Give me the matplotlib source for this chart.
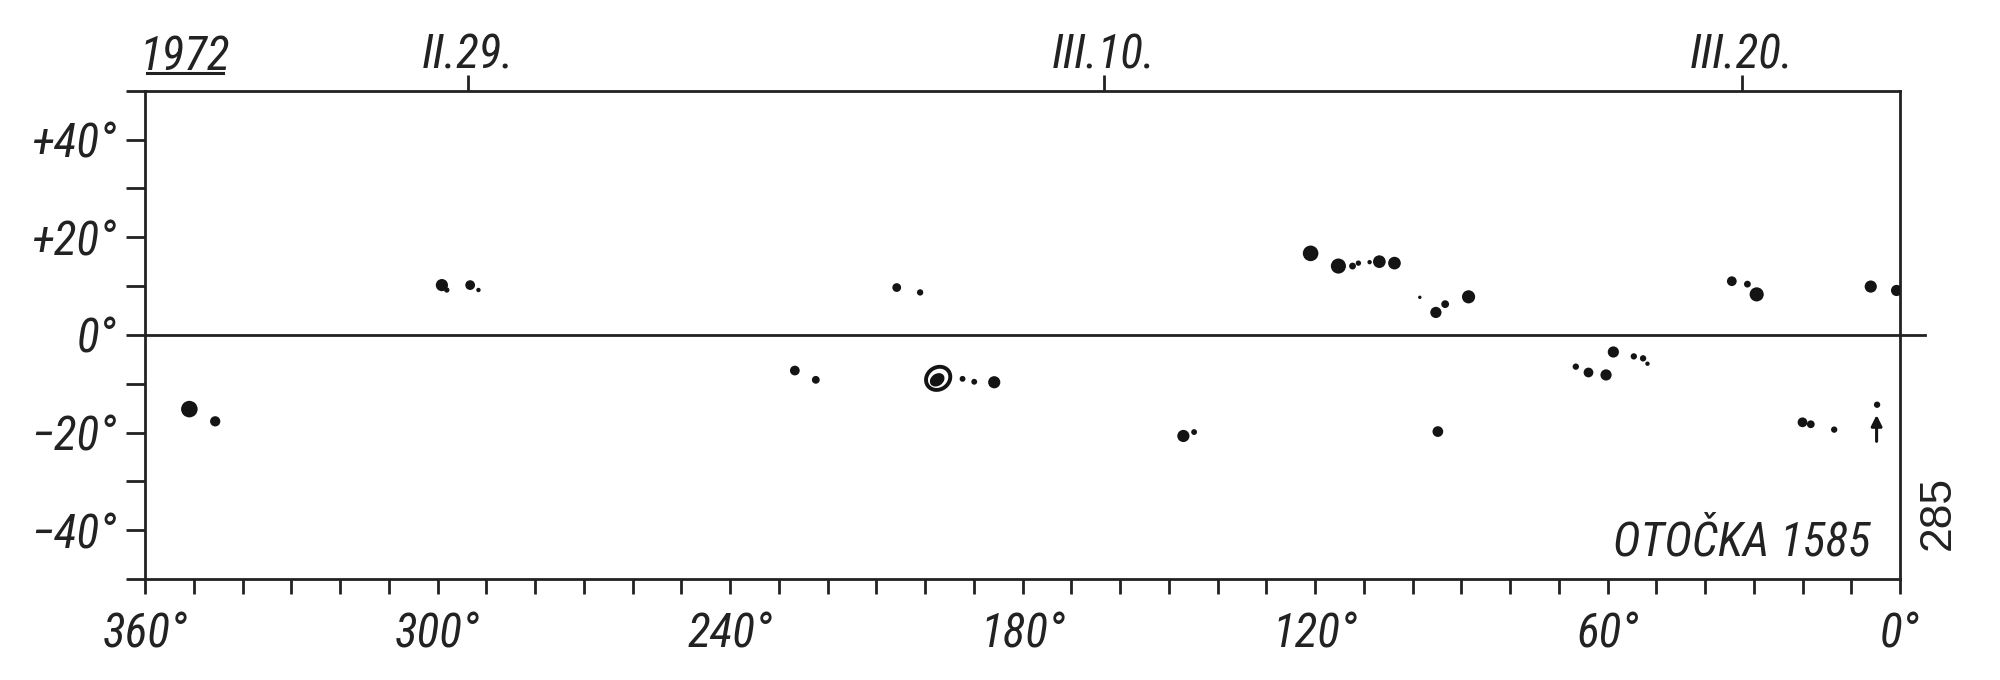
import matplotlib
matplotlib.use("Agg")
import matplotlib.pyplot as plt
from matplotlib import font_manager
from matplotlib.patches import Ellipse
from matplotlib.lines import Line2D

# sunspot positions (Carrington longitude, latitude, spot extent in deg)
spot_lon = [350.9, 345.6,
            299.1, 298.1, 293.3, 291.6,
            226.7, 222.4,
            205.8, 201.0,
            192.3, 189.9, 185.8,
            147.0, 144.8,
            120.9, 115.2, 112.3, 111.1, 108.8, 106.8, 103.7,
            98.5, 95.2, 93.3, 88.5,
            94.8,
            66.5, 63.9, 60.3, 58.8, 54.6, 52.7, 51.8,
            34.5, 31.3, 29.4,
            20.0, 18.3, 13.5,
            4.7,
            6.0, 0.7]
spot_lat = [-15.2, -17.7,
            10.2, 9.2, 10.2, 9.2,
            -7.3, -9.2,
            9.7, 8.7,
            -9.0, -9.6, -9.7,
            -20.7, -19.9,
            16.7, 14.1, 14.1, 14.7, 14.9, 15.0, 14.7,
            7.7, 4.6, 6.3, 7.8,
            -19.8,
            -6.5, -7.7, -8.2, -3.5, -4.4, -4.8, -5.9,
            11.0, 10.4, 8.3,
            -17.9, -18.3, -19.4,
            -14.3,
            9.9, 9.1]
spot_ext = [3.4, 2.1,
            2.5, 1.1, 2.0, 0.9,
            2.0, 1.6,
            1.8, 1.3,
            1.2, 1.2, 2.5,
            2.5, 1.2,
            3.2, 3.1, 1.4, 1.1, 0.9, 2.6, 2.6,
            0.7, 2.3, 1.6, 2.7,
            2.2,
            1.3, 2.0, 2.3, 2.3, 1.3, 1.3, 0.9,
            2.0, 1.4, 2.9,
            2.0, 1.6, 1.3,
            1.3,
            2.5, 2.3]

# large spot with penumbra
ring_lon, ring_lat = 197.3, -8.9
ring_w, ring_h = 5.2, 4.5

# arrow near 5 deg
arrow_lon = 4.8
arrow_lat = (-21.8, -16.4)

lat_ticks = [40, 20, 0, -20, -40]
lat_labels = ["+40°", "+20°", "0°", "−20°", "−40°"]
lon_ticks = [360, 300, 240, 180, 120, 60, 0]
lon_labels = ["360°", "300°", "240°", "180°", "120°", "60°", "0°"]
date_lon = [293.7, 163.3, 32.4]
date_labels = ["II.29.", "III.10.", "III.20."]

names = {f.name for f in font_manager.fontManager.ttflist}
hand, fs = "DejaVu Sans", 28
for fam, size in [("Roboto Condensed", 34), ("Liberation Sans Narrow", 34),
                  ("Liberation Sans", 31), ("Roboto", 31)]:
    if fam in names:
        hand, fs = fam, size
        break
plain = "Liberation Sans" if "Liberation Sans" in names else "DejaVu Sans"

ink = "#222222"
dot = "#141414"
lw = 2.0

fig = plt.figure(figsize=(20, 6.8), dpi=100)
ax = fig.add_axes([0.0725, 0.1485, 0.8775, 0.718])
ax.set_xlim(360, 0)
ax.set_ylim(-50, 50)

for s in ax.spines.values():
    s.set_color(ink)
    s.set_linewidth(lw)

# spot size: degrees -> points using the axes scale
pts_per_deg = ax.get_position().width * fig.get_figwidth() * 72 / 360
sizes = [(e * pts_per_deg) ** 2 for e in spot_ext]
ax.scatter(spot_lon, spot_lat, s=sizes, color=dot, linewidths=0, zorder=3)

ax.add_patch(Ellipse((ring_lon, ring_lat), ring_w, ring_h, angle=-35,
                     facecolor="white", edgecolor=dot, lw=2.8, zorder=3))
ax.add_patch(Ellipse((ring_lon + 0.2, ring_lat - 0.3), ring_w * 0.62, ring_h * 0.55, angle=-35,
                     facecolor=dot, edgecolor="none", zorder=4))

ax.annotate("", xy=(arrow_lon, arrow_lat[1]), xytext=(arrow_lon, arrow_lat[0]),
            arrowprops=dict(arrowstyle="-|>", color=dot, lw=2.2, mutation_scale=16,
                            shrinkA=0, shrinkB=0))

# equator, running a little past the right frame
ax.plot([360, -5.2], [0, 0], color=ink, lw=lw, clip_on=False, zorder=2)

# latitude axis
ax.set_yticks(lat_ticks)
ax.set_yticklabels(lat_labels)
ax.set_yticks(range(-50, 51, 10), minor=True)
ax.tick_params(axis="y", which="both", direction="out", length=13.5, width=lw,
               color=ink, pad=7)
ax.tick_params(axis="y", labelsize=fs, labelcolor=ink)

# longitude axis
ax.set_xticks(lon_ticks)
ax.set_xticklabels(lon_labels)
ax.set_xticks(range(0, 361, 10), minor=True)
ax.tick_params(axis="x", which="both", direction="out", length=10.5, width=lw,
               color=ink, pad=13)
ax.tick_params(axis="x", labelsize=fs, labelcolor=ink)

for lab in ax.get_xticklabels() + ax.get_yticklabels():
    lab.set_family(hand)
    lab.set_style("italic")

# dates on top
top = ax.secondary_xaxis("top")
top.set_xticks(date_lon)
top.set_xticklabels(date_labels)
top.tick_params(direction="out", length=11.5, width=lw, color=ink, pad=-3, labelsize=fs,
                labelcolor=ink)
top.spines["top"].set_visible(False)
for lab in top.get_xticklabels():
    lab.set_family(hand)
    lab.set_style("italic")

ax.text(0.0228, 1.042, "1972", transform=ax.transAxes, ha="center", va="baseline",
        fontsize=fs, family=hand, style="italic", color=ink)
fig.add_artist(Line2D([147 / 2000, 223 / 2000], [1 - 73 / 680, 1 - 73 / 680],
                      color=ink, lw=2.2))

ax.text(0.983, 0.074, "OTOČKA 1585", transform=ax.transAxes, ha="right", va="center",
        fontsize=fs, family=hand, style="italic", color=ink)
ax.text(1.0217, 0.135, "285", transform=ax.transAxes, ha="center", va="center",
        rotation=90, fontsize=32, family=plain, color=ink)

fig.savefig("out.png", dpi=100, facecolor="white")
